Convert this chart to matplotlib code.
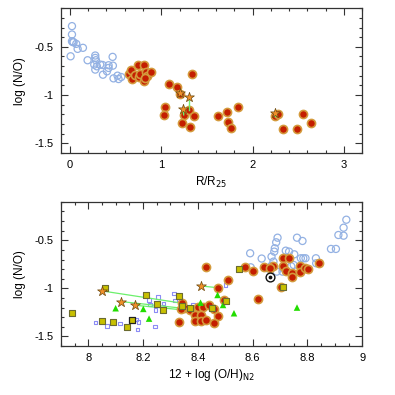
import matplotlib
matplotlib.use('Agg')
import matplotlib.pyplot as plt
from matplotlib.ticker import MultipleLocator, FormatStrFormatter
import numpy as np

plt.rcParams['font.family'] = ['Liberation Sans', 'DejaVu Sans']
plt.rcParams['axes.unicode_minus'] = True

# ---- top panel: log(N/O) vs R/R25 ----
blue_r = [0.022, 0.022, 0.022, 0.04, 0.069, 0.084, 0.142, 0.007, 0.193, 0.277,
          0.277, 0.284, 0.266, 0.277, 0.295, 0.331, 0.357, 0.361, 0.423, 0.423,
          0.405, 0.467, 0.47, 0.477, 0.521, 0.532, 0.561, 0.03]
blue_no = [-0.285, -0.372, -0.442, -0.452, -0.469, -0.521, -0.51, -0.598, -0.639, -0.59,
           -0.615, -0.639, -0.684, -0.736, -0.702, -0.684, -0.688, -0.789, -0.691, -0.719,
           -0.754, -0.604, -0.695, -0.827, -0.799, -0.834, -0.813, -0.45]

red_r = [0.641, 0.671, 0.678, 0.714, 0.74, 0.758, 0.769, 0.806, 0.813, 0.835,
         0.842, 0.824, 0.886, 1.079, 1.171, 1.2, 1.039, 1.032, 1.338, 1.25,
         1.298, 1.232, 1.363, 1.316, 1.619, 1.718, 1.729, 1.765, 1.838, 2.246,
         2.282, 2.556, 2.33, 2.484, 2.637]
red_no = [-0.781, -0.736, -0.834, -0.789, -0.691, -0.816, -0.778, -0.684, -0.851, -0.764,
          -0.799, -0.823, -0.764, -0.882, -0.914, -0.986, -1.119, -1.205, -0.783, -1.205,
          -1.153, -1.285, -1.222, -1.333, -1.222, -1.181, -1.281, -1.337, -1.122, -1.216,
          -1.195, -1.195, -1.351, -1.348, -1.285]

star_r = [1.207, 1.298, 1.243, 2.246]
star_no = [-0.98, -1.025, -1.145, -1.188]
star_r_pair = [1.207, 1.298, 1.245, 2.246]
star_no_pair = [-0.99, -1.153, -1.205, -1.216]

# ---- bottom panel: log(N/O) vs 12+log(O/H)_N2 ----
blue_oh = [8.591, 8.633, 8.669, 8.679, 8.681, 8.686, 8.691, 8.676, 8.654, 8.593,
           8.688, 8.721, 8.733, 8.752, 8.762, 8.782, 8.776, 8.785, 8.793, 8.75,
           8.831, 8.832, 8.886, 8.904, 8.913, 8.932, 8.932, 8.942, 8.709, 8.669,
           8.712, 8.741]
blue_no2 = [-0.635, -0.69, -0.67, -0.618, -0.583, -0.521, -0.473, -0.722, -0.791, -0.781,
            -0.826, -0.608, -0.618, -0.646, -0.473, -0.507, -0.687, -0.687, -0.687, -0.757,
            -0.687, -0.739, -0.59, -0.59, -0.445, -0.452, -0.369, -0.286, -0.826, -0.764,
            -0.79, -0.77]

red_oh = [8.431, 8.511, 8.472, 8.571, 8.602, 8.62, 8.341, 8.35, 8.34, 8.372,
          8.402, 8.42, 8.441, 8.459, 8.472, 8.494, 8.459, 8.39, 8.41, 8.39,
          8.41, 8.43, 8.331, 8.642, 8.673, 8.663, 8.711, 8.733, 8.711, 8.721,
          8.742, 8.742, 8.773, 8.773, 8.792, 8.803, 8.843, 8.703]
red_no2 = [-0.781, -0.913, -0.993, -0.774, -0.816, -1.113, -1.149, -1.2, -1.22, -1.225,
           -1.197, -1.197, -1.173, -1.217, -1.287, -1.121, -1.356, -1.277, -1.277, -1.336,
           -1.336, -1.33, -1.346, -0.781, -0.764, -0.791, -0.681, -0.687, -0.767, -0.819,
           -0.843, -0.878, -0.764, -0.833, -0.791, -0.801, -0.739, -0.982]

sq_oh = [7.94, 8.061, 8.051, 8.09, 8.14, 8.211, 8.252, 8.272, 8.331, 8.341,
         8.37, 8.451, 8.502, 8.551, 8.711]
sq_no = [-1.259, -0.999, -1.339, -1.352, -1.399, -1.066, -1.160, -1.222, -1.082, -1.18,
         -1.2, -1.207, -1.128, -0.801, -0.982]
sq_dark_oh = [8.161]
sq_dark_no = [-1.331]

small_oh = [8.027, 8.069, 8.116, 8.177, 8.184, 8.18, 8.243, 8.254, 8.222, 8.225,
            8.274, 8.245, 8.313, 8.316, 8.382, 8.5]
small_no = [-1.356, -1.39, -1.363, -1.321, -1.349, -1.43, -1.397, -1.089, -1.121, -1.165,
            -1.155, -1.225, -1.051, -1.128, -1.17, -0.965]

tri_oh = [8.1, 8.201, 8.222, 8.41, 8.472, 8.492, 8.532, 8.762]
tri_no = [-1.207, -1.214, -1.315, -1.149, -1.069, -1.173, -1.259, -1.2]

star_oh = [8.051, 8.121, 8.172, 8.41]
star_no2 = [-1.027, -1.138, -1.176, -0.975]
star_oh_pair = [8.344, 8.344, 8.344, 8.472]
star_no2_pair = [-1.155, -1.207, -1.224, -0.993]

sun_oh = 8.663
sun_no = -0.878

BLUE = '#93b1e3'
RED_FACE = '#c41e00'
RED_EDGE = '#d49a3c'
YELLOW = '#c8c000'
SMALL_BLUE = '#8c8cf5'
GREEN = '#22dd00'
LINE_GREEN = '#6cf06c'
STAR = '#f0902a'

fig = plt.figure(figsize=(3.95, 3.95), dpi=100)
ax1 = fig.add_axes([0.154, 0.613, 0.763, 0.366])
ax2 = fig.add_axes([0.154, 0.124, 0.763, 0.365])


def style(ax):
    for s in ax.spines.values():
        s.set_color('#333333')
        s.set_linewidth(0.9)
    ax.tick_params(which='both', direction='in', top=True, right=True,
                   color='#333333', labelsize=8, pad=5, width=0.8)
    ax.tick_params(which='major', length=5)
    ax.tick_params(which='minor', length=2.5)
    ax.set_ylim(-1.6, -0.1)
    ax.yaxis.set_major_locator(MultipleLocator(0.5))
    ax.yaxis.set_minor_locator(MultipleLocator(0.1))
    ax.yaxis.set_major_formatter(FormatStrFormatter('%g'))
    ax.set_ylabel('log (N/O)', fontsize=8.5, labelpad=6)


# top panel
style(ax1)
ax1.set_xlim(-0.1, 3.2)
ax1.xaxis.set_major_locator(MultipleLocator(1))
ax1.xaxis.set_minor_locator(MultipleLocator(0.2))
ax1.xaxis.set_major_formatter(FormatStrFormatter('%g'))
ax1.scatter(blue_r, blue_no, s=26, facecolors='none', edgecolors=BLUE, linewidths=0.9, zorder=3)
ax1.scatter(red_r, red_no, s=34, c=RED_FACE, edgecolors=RED_EDGE, linewidths=1.2, zorder=3)
for x0, y0, x1, y1 in zip(star_r, star_no, star_r_pair, star_no_pair):
    ax1.plot([x0, x1], [y0, y1], color=LINE_GREEN, lw=1.0, zorder=4)
ax1.scatter(star_r, star_no, s=55, marker='*', c=STAR, edgecolors='#6b4a10', linewidths=0.5, zorder=5)
ax1.set_xlabel('R/R$_{25}$', fontsize=8.5, labelpad=4)

# bottom panel
style(ax2)
ax2.set_xlim(7.9, 9.0)
ax2.xaxis.set_major_locator(MultipleLocator(0.2))
ax2.xaxis.set_minor_locator(MultipleLocator(0.05))
ax2.xaxis.set_major_formatter(FormatStrFormatter('%g'))
ax2.scatter(blue_oh, blue_no2, s=26, facecolors='none', edgecolors=BLUE, linewidths=0.9, zorder=2)
ax2.scatter(small_oh, small_no, s=6, marker='s', facecolors='none', edgecolors=SMALL_BLUE, linewidths=0.8, zorder=2)
for x0, y0, x1, y1 in zip(star_oh, star_no2, star_oh_pair, star_no2_pair):
    ax2.plot([x0, x1], [y0, y1], color=LINE_GREEN, lw=0.9, zorder=2.5)
ax2.scatter(red_oh, red_no2, s=34, c=RED_FACE, edgecolors=RED_EDGE, linewidths=1.2, zorder=3)
ax2.scatter(tri_oh, tri_no, s=22, marker='^', c=GREEN, edgecolors='none', zorder=3)
ax2.scatter(sq_oh, sq_no, s=18, marker='s', c=YELLOW, edgecolors='#6b6b30', linewidths=0.8, zorder=4)
ax2.scatter(sq_dark_oh, sq_dark_no, s=18, marker='s', c=YELLOW, edgecolors='#222222', linewidths=0.9, zorder=4)
ax2.scatter(star_oh, star_no2, s=55, marker='*', c=STAR, edgecolors='#6b4a10', linewidths=0.5, zorder=5)
ax2.scatter([sun_oh], [sun_no], s=40, facecolors='white', edgecolors='#111111', linewidths=1.0, zorder=5)
ax2.scatter([sun_oh], [sun_no], s=3, c='#111111', zorder=6)
ax2.set_xlabel('12 + log (O/H)$_{\\rm N2}$', fontsize=8.5, labelpad=3)

fig.savefig('out.png', dpi=100)
